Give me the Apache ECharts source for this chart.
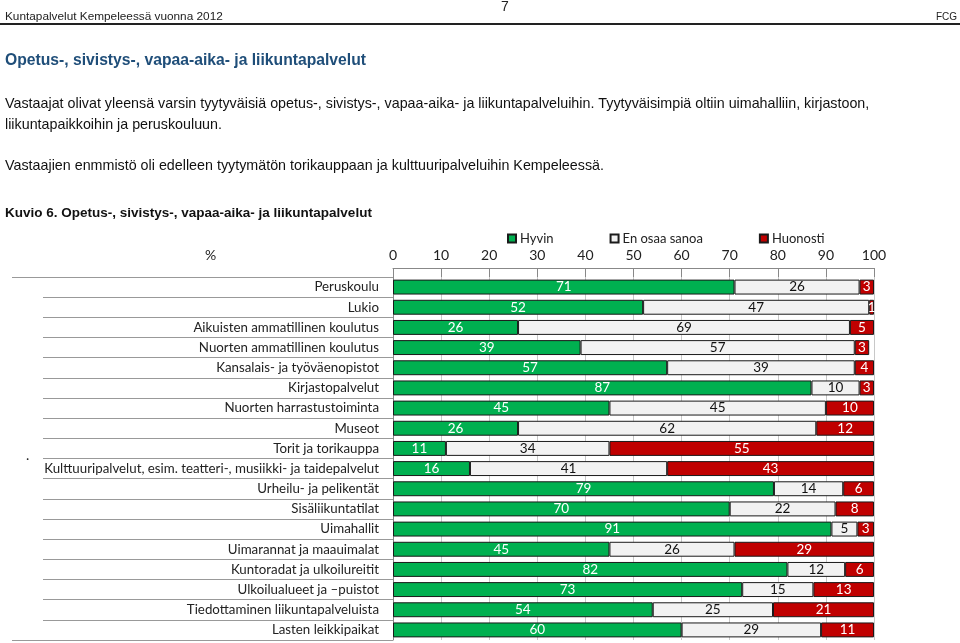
<!DOCTYPE html>
<html><head><meta charset="utf-8">
<script src="https://cdn.jsdelivr.net/npm/echarts@6/dist/echarts.min.js"></script>
<style>html,body{margin:0;padding:0;background:#fff}#c{width:960px;height:643px}</style>
</head><body><div id="c"></div>
<script>
const categories = ["Peruskoulu","Lukio","Aikuisten ammatillinen koulutus","Nuorten ammatillinen koulutus","Kansalais- ja työväenopistot","Kirjastopalvelut","Nuorten harrastustoiminta","Museot","Torit ja torikauppa","Kulttuuripalvelut, esim. teatteri-, musiikki- ja taidepalvelut","Urheilu- ja pelikentät","Sisäliikuntatilat","Uimahallit","Uimarannat ja maauimalat","Kuntoradat ja ulkoilureitit","Ulkoilualueet ja \u2013puistot","Tiedottaminen liikuntapalveluista","Lasten leikkipaikat"];
const hyvin    = [71,52,26,39,57,87,45,26,11,16,79.2,70,91.15,45,82,72.6,54,60];
const enOsaa   = [26,47,69,57,39,10,45,62,34,41,14.4,22,5.4,26,12,14.8,25,29];
const huonosti = [3,1,5,3,4,3,10,12,55,43,6.4,8,3.45,29,6,12.6,21,11];
const xTicks = [0,10,20,30,40,50,60,70,80,90,100];

const F = 'Lato, "Open Sans", sans-serif';
const PF = '"Liberation Sans", sans-serif';
const chart = echarts.init(document.getElementById('c'));
function ser(name, data, color, txt){
  return {name, type:'bar', stack:'s', data, barWidth:'74%',
    itemStyle:{color, borderColor:'#1a1a1a', borderWidth:1},
    label:{show:true, position:'inside', color:txt, fontFamily:F, fontSize:13.5,
      formatter:p=>Math.round(p.value)}};
}
chart.setOption({
  animation:false,
  textStyle:{fontFamily:F},
  graphic:[
    {type:'text', left:5, top:11, style:{text:'Kuntapalvelut Kempeleessä vuonna 2012', font:'11.8px '+PF, fill:'#222'}},
    {type:'text', left:501, top:0, style:{text:'7', font:'14px '+PF, fill:'#222'}},
    {type:'text', right:3, top:12, style:{text:'FCG', font:'10px '+PF, fill:'#222'}},
    {type:'rect', left:0, top:23, shape:{width:960, height:2}, style:{fill:'#222'}},
    {type:'text', left:5, top:53, style:{text:'Opetus-, sivistys-, vapaa-aika- ja liikuntapalvelut', font:'bold 15.7px '+PF, fill:'#1F4E79'}},
    {type:'text', left:5, top:97, style:{text:'Vastaajat olivat yleensä varsin tyytyväisiä opetus-, sivistys-, vapaa-aika- ja liikuntapalveluihin. Tyytyväisimpiä oltiin uimahalliin, kirjastoon,', font:'14.3px '+PF, fill:'#111'}},
    {type:'text', left:5, top:118, style:{text:'liikuntapaikkoihin ja peruskouluun.', font:'14.3px '+PF, fill:'#111'}},
    {type:'text', left:5, top:159, style:{text:'Vastaajien enmmistö oli edelleen tyytymätön torikauppaan ja kulttuuripalveluihin Kempeleessä.', font:'14.3px '+PF, fill:'#111'}},
    {type:'text', left:5, top:206, style:{text:'Kuvio 6. Opetus-, sivistys-, vapaa-aika- ja liikuntapalvelut', font:'bold 13.5px '+PF, fill:'#111'}},
    {type:'text', left:205, top:248, style:{text:'%', font:'14px '+F, fill:'#222'}},
    {type:'text', left:26, top:448, style:{text:'.', font:'14px '+F, fill:'#222'}},
    {type:'line', shape:{x1:12,y1:277.5,x2:43,y2:277.5}, style:{stroke:'#999', lineWidth:1}},
    {type:'line', shape:{x1:12,y1:640.5,x2:43,y2:640.5}, style:{stroke:'#999', lineWidth:1}}
  ],
  legend:{left:502, top:227, itemWidth:8, itemHeight:8, itemGap:56, icon:'rect',
    textStyle:{fontFamily:F, fontSize:13, color:'#222', padding:[0,0,0,-1]},
    data:['Hyvin','En osaa sanoa','Huonosti']},
  grid:{left:393, right:86, top:277, bottom:3, containLabel:false},
  xAxis:{type:'value', position:'top', min:0, max:100, interval:10, offset:9,
    axisLine:{show:true, lineStyle:{color:'#888'}},
    axisTick:{show:true, inside:true, length:9, lineStyle:{color:'#888'}},
    splitLine:{show:true, lineStyle:{color:'#c8c8c8'}},
    axisLabel:{fontSize:14, color:'#222', margin:6, fontFamily:F,
      formatter:v=>xTicks.includes(v)?String(v):''}},
  yAxis:{type:'category', inverse:true, data:categories,
    axisLine:{show:true, lineStyle:{color:'#888'}},
    axisTick:{show:true, length:350, lineStyle:{color:'#999'}},
    splitLine:{show:false},
    axisLabel:{fontSize:13.3, color:'#222', margin:14, fontFamily:F}},
  series:[ser('Hyvin',hyvin,'#00B050','#fff'), ser('En osaa sanoa',enOsaa,'#F2F2F2','#111'), ser('Huonosti',huonosti,'#C00000','#fff')]
});
</script></body></html>
